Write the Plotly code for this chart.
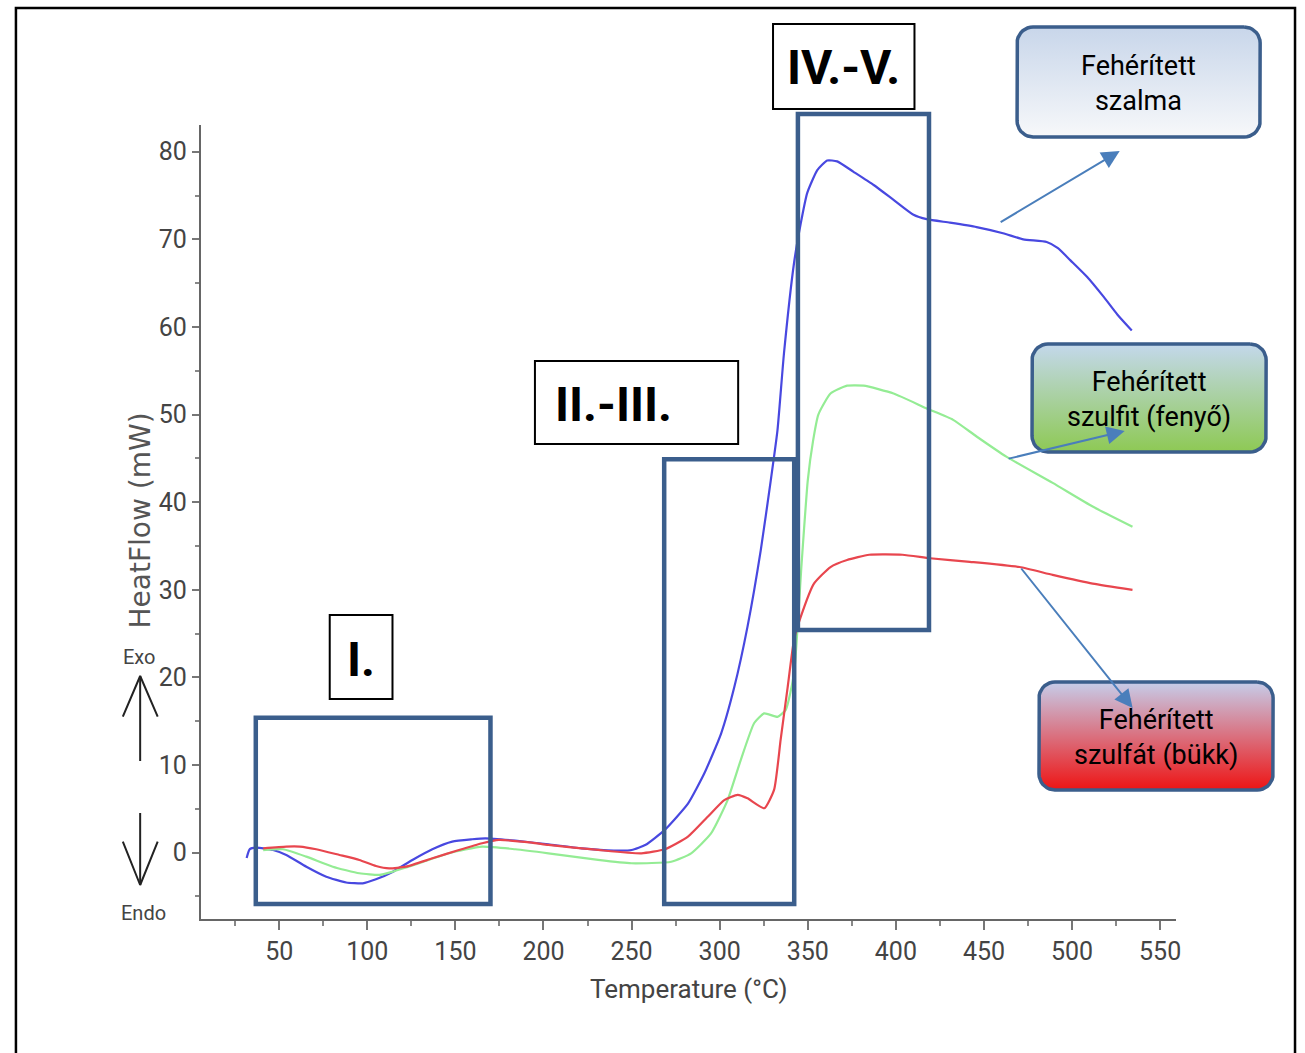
import numpy as np
import plotly.graph_objects as go

W, H = 1305, 1053

# ---------------- data ----------------
szalma_T = [31.5, 33.3, 37, 46.5, 54, 65.4, 76.7, 88, 97.4, 104.9, 114.3, 125.6, 136.9, 148.2,
            159.5, 167, 184, 202.8, 221.6, 240, 250, 258, 268.8, 282, 291.3, 300.8, 308.3, 315.8,
            323.3, 329, 332.8, 336.5, 342.2, 346, 349.7, 355.4, 361, 366.7, 376, 387.4, 398.7,
            410, 417.5, 430.7, 445.8, 460.8, 472.3, 485.6, 492, 499.1, 508.6, 518.1, 525.8, 533.9]
szalma_HF = [-0.6, 0.4, 0.57, 0.3, -0.26, -1.6, -2.74, -3.4, -3.5, -3.04, -2.2, -0.83, 0.39, 1.26,
             1.53, 1.64, 1.37, 0.95, 0.5, 0.25, 0.3, 0.9, 2.6, 5.6, 9.06, 13.6, 18.9, 25.8,
             34.5, 42.5, 48.2, 57, 67.3, 71.8, 75.3, 77.9, 79.0, 78.9, 77.7, 76.2, 74.5,
             72.8, 72.3, 71.9, 71.4, 70.7, 70.0, 69.7, 69.0, 67.6, 65.7, 63.4, 61.4, 59.6]

szulfit_T = [40.9, 52.2, 65.4, 80.4, 95.5, 106.8, 114.3, 129.4, 146.3, 165.2, 184, 202.8, 231,
             249.9, 272.5, 283.8, 295.1, 304.5, 312, 319.6, 325.3, 332.8, 337.5, 342.2, 346.5,
             350, 353, 356, 362.9, 372.3, 381.7, 398.7, 417.5, 432.5, 445.8, 462.7, 489, 511.7, 534.3]
szulfit_HF = [0.3, 0.39, -0.45, -1.6, -2.35, -2.54, -2.17, -1.21, -0.07, 0.69, 0.39, -0.07, -0.83,
              -1.21, -1.03, -0.07, 2.2, 6.0, 10.6, 14.8, 15.9, 15.5, 16.3, 20.5, 33,
              42.5, 47, 50, 52.4, 53.3, 53.3, 52.4, 50.7, 49.4, 47.5, 45.2, 42.2, 39.5, 37.2]

szulfat_T = [40.9, 54, 61.6, 71, 84.2, 95.5, 104.9, 112.4, 121.9, 137, 152, 165.2, 174.6, 193.4,
             202.8, 231, 255.5, 268.8, 282, 293.2, 302.6, 310.2, 315.8, 325.3, 330.9, 334.6, 338.4,
             342.2, 346, 353.5, 362.9, 372.3, 384.9, 403.7, 419.4, 442, 470.2, 489, 511.7, 534.3]
szulfat_HF = [0.5, 0.69, 0.69, 0.39, -0.26, -0.83, -1.52, -1.79, -1.6, -0.64, 0.3, 1.07, 1.45, 1.14,
              0.88, 0.31, -0.07, 0.39, 1.83, 4.1, 6.0, 6.6, 6.2, 5.07, 7.2, 12.9, 18.6,
              24.3, 26.9, 30.7, 32.6, 33.4, 34.0, 34.0, 33.6, 33.2, 32.6, 31.7, 30.7, 30.0]

x_ticks = [50, 100, 150, 200, 250, 300, 350, 400, 450, 500, 550]
x_minor = [25, 75, 125, 175, 225, 275, 325, 375, 425, 475, 525]
y_ticks = [0, 10, 20, 30, 40, 50, 60, 70, 80]
y_minor = [-5, 5, 15, 25, 35, 45, 55, 65, 75]

# region boxes (label, temperature range, heat-flow range)
regions = [
    ("I.", 36.7, 169.9, -5.85, 15.4),
    ("II.-III.", 268.5, 342.3, -5.85, 44.9),
    ("IV.-V.", 344.4, 418.8, 25.4, 84.3),
]

# ---------------- geometry ----------------
X_RANGE = [5.56, 559.1]
Y_RANGE = [-7.57, 83.05]
PL, PR, PT, PB = 201.7, 1180.7, 125.0, 919.0

FONT = "Roboto, Liberation Sans, sans-serif"
BOXC = "#3b5e8c"
ARROWC = "#4a7ebb"


def to_px(T, hf):
    px = PL + (T - X_RANGE[0]) / (X_RANGE[1] - X_RANGE[0]) * (PR - PL)
    py = PB - (hf - Y_RANGE[0]) / (Y_RANGE[1] - Y_RANGE[0]) * (PB - PT)
    return px, py


def rounded_rect(x0, y0, x1, y1, r, n=10):
    xs, ys = [], []
    corners = [(x1 - r, y0 + r, -90, 0), (x1 - r, y1 - r, 0, 90),
               (x0 + r, y1 - r, 90, 180), (x0 + r, y0 + r, 180, 270)]
    for cx, cy, a0, a1 in corners:
        for a in np.linspace(a0, a1, n):
            t = np.radians(a)
            xs.append(cx + r * np.cos(t))
            ys.append(cy + r * np.sin(t))
    xs.append(xs[0])
    ys.append(ys[0])
    return xs, ys


fig = go.Figure()

series = [
    (szalma_T, szalma_HF, "#4848e0", "Fehérített szalma"),
    (szulfit_T, szulfit_HF, "#94ec94", "Fehérített szulfit (fenyő)"),
    (szulfat_T, szulfat_HF, "#e8464e", "Fehérített szulfát (bükk)"),
]
for T, hf, col, name in series:
    fig.add_trace(go.Scatter(x=T, y=hf, mode="lines", name=name,
                             line=dict(color=col, width=2.2, shape="spline", smoothing=0.5),
                             xaxis="x", yaxis="y", hoverinfo="x+y+name"))

# gradient rounded label boxes (pixel overlay axes)
label_boxes = [
    ("Fehérített<br>szalma", 1021, 27, 1265, 137, "#c8d6ea", "#f7f8fa"),
    ("Fehérített<br>szulfit (fenyő)", 1036, 344, 1271, 452, "#c4d8ec", "#8ec954"),
    ("Fehérített<br>szulfát (bükk)", 1043, 682, 1278, 790, "#c6cdea", "#ee1414"),
]
for text, x0, y0, x1, y1, ctop, cbot in label_boxes:
    xs, ys = rounded_rect(x0, y0, x1, y1, 16)
    fig.add_trace(go.Scatter(
        x=xs, y=ys, mode="lines", fill="toself", xaxis="x2", yaxis="y2",
        fillgradient=dict(type="vertical", colorscale=[[0, ctop], [1, cbot]], start=y0, stop=y1),
        line=dict(color=BOXC, width=3.5), hoverinfo="skip", showlegend=False))

# Exo / Endo arrows
ex = 140.7
fig.add_trace(go.Scatter(
    x=[ex, ex, None, 123.3, ex, 158.3, None, ex, ex, None, 123.3, ex, 158.3],
    y=[761, 676, None, 716.7, 676, 716.7, None, 813, 885, None, 841.7, 885, 841.7],
    mode="lines", line=dict(color="#222222", width=2), xaxis="x2", yaxis="y2",
    hoverinfo="skip", showlegend=False))

shapes = []
# outer frame
shapes.append(dict(type="rect", xref="x2", yref="y2", x0=16, y0=8, x1=1300, y1=1062,
                   line=dict(color="black", width=2.5), fillcolor="rgba(0,0,0,0)", layer="below"))
# region boxes
for _, t0, t1, h0, h1 in regions:
    px0, py0 = to_px(t0, h1)
    px1, py1 = to_px(t1, h0)
    shapes.append(dict(type="rect", xref="x2", yref="y2", x0=px0, y0=py0, x1=px1, y1=py1,
                       line=dict(color=BOXC, width=4.5), fillcolor="rgba(0,0,0,0)", layer="above"))

# region label boxes
tag_boxes = [
    ("I.", 331, 615, 394, 699, 362.5, 659, "center"),
    ("II.-III.", 537, 361, 741, 444, 555, 404, "left"),
    ("IV.-V.", 776, 24, 918, 109, 847, 67, "center"),
]
annotations = []
for txt, x0, y0, x1, y1, tx, ty, al in tag_boxes:
    shapes.append(dict(type="rect", xref="x2", yref="y2", x0=x0, y0=y0, x1=x1, y1=y1,
                       line=dict(color="black", width=2), fillcolor="white", layer="above"))
    annotations.append(dict(xref="x2", yref="y2", x=tx, y=ty, text=f"<b>{txt}</b>",
                            showarrow=False, xanchor=al, yanchor="middle",
                            font=dict(family=FONT, size=48, color="black")))

# label texts in rounded boxes
for text, x0, y0, x1, y1, _, _ in label_boxes:
    annotations.append(dict(xref="x2", yref="y2", x=(x0 + x1) / 2, y=(y0 + y1) / 2 + 1, text=text,
                            showarrow=False, xanchor="center", yanchor="middle",
                            font=dict(family=FONT, size=27, color="black")))

# pointer arrows
for (sx, sy), (tx, ty) in [((1003, 223), (1124, 151)), ((1011, 459), (1129, 431)),
                           ((1024, 567), (1137, 708))]:
    annotations.append(dict(xref="x2", yref="y2", axref="x2", ayref="y2", x=tx, y=ty, ax=sx, ay=sy,
                            text="", showarrow=True, arrowhead=2, arrowsize=1.8, arrowwidth=2,
                            arrowcolor=ARROWC, standoff=0, startstandoff=0))

# axis titles & Exo/Endo text
annotations.append(dict(xref="x2", yref="y2", x=692, y=989, text="Temperature (°C)", showarrow=False,
                        xanchor="center", yanchor="middle",
                        font=dict(family=FONT, size=26, color="#444444")))
annotations.append(dict(xref="x2", yref="y2", x=141, y=520, text="HeatFlow (mW)", showarrow=False,
                        textangle=-90, xanchor="center", yanchor="middle",
                        font=dict(family="DejaVu Sans, sans-serif", size=28, color="#555555")))
annotations.append(dict(xref="x2", yref="y2", x=140, y=657, text="Exo", showarrow=False,
                        xanchor="center", yanchor="middle",
                        font=dict(family=FONT, size=20, color="#444444")))
annotations.append(dict(xref="x2", yref="y2", x=144, y=913, text="Endo", showarrow=False,
                        xanchor="center", yanchor="middle",
                        font=dict(family=FONT, size=20, color="#444444")))

fig.update_layout(
    width=W, height=H, margin=dict(l=0, r=0, t=0, b=0),
    paper_bgcolor="white", plot_bgcolor="rgba(0,0,0,0)", showlegend=False,
    xaxis=dict(domain=[PL / W, PR / W], range=X_RANGE, anchor="y",
               tickmode="array", tickvals=x_ticks, ticks="outside", ticklen=9, tickwidth=1.5,
               tickcolor="#777777", showline=True, linecolor="#666666", linewidth=2,
               showgrid=False, zeroline=False,
               tickfont=dict(family=FONT, size=25, color="#444444"),
               minor=dict(tickmode="array", tickvals=x_minor, ticks="outside", ticklen=5,
                          tickwidth=1.5, tickcolor="#888888", showgrid=False)),
    yaxis=dict(domain=[1 - PB / H, 1 - PT / H], range=Y_RANGE, anchor="x",
               tickmode="array", tickvals=y_ticks, ticks="outside", ticklen=7, tickwidth=1.5,
               tickcolor="#777777", showline=True, linecolor="#666666", linewidth=2,
               showgrid=False, zeroline=False,
               tickfont=dict(family=FONT, size=25, color="#444444"),
               minor=dict(tickmode="array", tickvals=y_minor, ticks="outside", ticklen=4,
                          tickwidth=1.5, tickcolor="#888888", showgrid=False)),
    xaxis2=dict(domain=[0, 1], range=[0, W], anchor="y2", visible=False, fixedrange=True),
    yaxis2=dict(domain=[0, 1], range=[H, 0], anchor="x2", visible=False, fixedrange=True),
    shapes=shapes, annotations=annotations,
)

fig.write_html("out.html", config={"displayModeBar": False},
               post_script="document.body.style.margin='0';")
